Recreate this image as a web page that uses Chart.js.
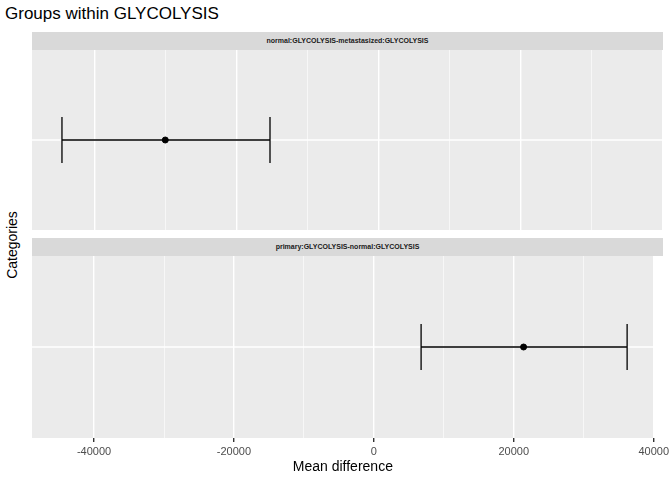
<!DOCTYPE html>
<html>
<head>
<meta charset="UTF-8">
<script src="https://cdn.jsdelivr.net/npm/chart.js"></script>
<style>
    body { margin: 0; width: 672px; height: 480px; background: #fff; font-family: "Liberation Sans", Arial, sans-serif; position: relative; overflow: hidden; }
    .title { position: absolute; left: 5px; top: 4px; font-size: 17px; color: #000; }
    .strip { position: absolute; left: 32px; width: 631px; height: 18px; background: #D9D9D9; font-size: 7px; font-weight: bold; color: #1A1A1A; text-align: center; line-height: 18px; }
    .ytitle { position: absolute; left: 12px; top: 245px; transform: translate(-50%, -50%) rotate(-90deg); font-size: 14px; white-space: nowrap; }
    .box { position: absolute; }
</style>
</head>
<body>
<div class="title">Groups within GLYCOLYSIS</div>
<div class="ytitle">Categories</div>
<div class="strip" style="top:32px" id="s0"></div>
<div class="strip" style="top:238px" id="s1"></div>
<div class="box" style="left:32px; top:50px; width:631px; height:180px;"><canvas id="c0"></canvas></div>
<div class="box" style="left:32px; top:256px; width:640px; height:224px;"><canvas id="c1"></canvas></div>
<script>
// data
const categories = ['normal:GLYCOLYSIS-metastasized:GLYCOLYSIS', 'primary:GLYCOLYSIS-normal:GLYCOLYSIS'];
const means = [-30100, 21400];
const lowers = [-44650, 6750];
const uppers = [-15350, 36200];
const xTicks = [-40000, -20000, 0, 20000, 40000];

const errorBars = {
    id: 'errorBars',
    beforeDatasetsDraw(chart) {
        const a = chart.chartArea, ctx = chart.ctx;
        const yc = chart.scales.y.getPixelForValue(1);
        ctx.save(); ctx.strokeStyle = '#fff'; ctx.lineWidth = 1.4;
        ctx.beginPath(); ctx.moveTo(a.left, yc); ctx.lineTo(a.right, yc); ctx.stroke();
        ctx.restore();
    },
    beforeDraw(chart) {
        const a = chart.chartArea, ctx = chart.ctx;
        ctx.save(); ctx.fillStyle = '#EBEBEB';
        ctx.fillRect(a.left, a.top, a.right - a.left, a.bottom - a.top);
        ctx.restore();
    },
    afterDatasetsDraw(chart) {
        const i = chart.options.plugins.errorBars.index;
        const x = chart.scales.x, y = chart.scales.y, ctx = chart.ctx;
        const yc = y.getPixelForValue(1), x0 = x.getPixelForValue(lowers[i]), x1 = x.getPixelForValue(uppers[i]);
        ctx.save(); ctx.strokeStyle = '#000'; ctx.lineWidth = 1.3;
        ctx.beginPath();
        ctx.moveTo(x0, yc); ctx.lineTo(x1, yc);
        ctx.moveTo(x0, yc - 23); ctx.lineTo(x0, yc + 23);
        ctx.moveTo(x1, yc - 23); ctx.lineTo(x1, yc + 23);
        ctx.stroke(); ctx.restore();
    }
};

function makeChart(id, i, showAxis) {
    document.getElementById('s' + i).textContent = categories[i];
    new Chart(document.getElementById(id), {
        type: 'scatter',
        data: { datasets: [{ data: [{ x: means[i], y: 1 }], backgroundColor: '#000', borderColor: '#000', pointRadius: 3 }] },
        options: {
            responsive: true, maintainAspectRatio: false, animation: false,
            layout: { autoPadding: false, padding: { right: showAxis ? 9 : 0 } },
            plugins: { legend: { display: false }, tooltip: { enabled: false }, errorBars: { index: i } },
            scales: {
                x: {
                    min: -48870, max: 40000,
                    afterBuildTicks: s => { s.ticks = [-40000, -30000, -20000, -10000, 0, 10000, 20000, 30000, 40000].map(v => ({ value: v })); },
                    afterFit: s => { s.height = showAxis ? 42 : 0; },
                    border: { display: false },
                    grid: {
                        color: '#fff',
                        lineWidth: c => (xTicks.includes(c.tick.value) ? 1.4 : 0.6),
                        drawTicks: showAxis, tickLength: 4,
                        tickColor: c => (xTicks.includes(c.tick.value) ? '#333' : 'rgba(0,0,0,0)')
                    },
                    ticks: {
                        display: showAxis, color: '#4D4D4D', font: { size: 11, family: 'Liberation Sans' }, padding: 3,
                        maxRotation: 0, autoSkip: false,
                        callback: v => (xTicks.includes(v) ? String(v) : '')
                    },
                    title: { display: showAxis, text: 'Mean difference', color: '#000', font: { size: 14, family: 'Liberation Sans' }, padding: { top: 1 } }
                },
                y: { display: false, min: 0, max: 2 }
            }
        },
        plugins: [errorBars]
    });
}
makeChart('c0', 0, false);
makeChart('c1', 1, true);
</script>
</body>
</html>
